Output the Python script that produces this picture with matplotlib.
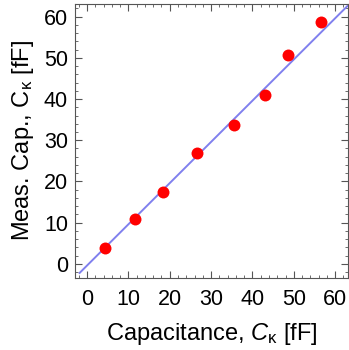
import numpy as np
import matplotlib
matplotlib.use('Agg')
import matplotlib.pyplot as plt

# measured data (design capacitance vs. measured capacitance)
cap_design = [4.3, 11.6, 18.3, 26.6, 35.6, 43.1, 48.7, 56.5]
cap_meas = [3.8, 10.9, 17.5, 26.8, 33.7, 40.9, 50.8, 58.8]

# reference line
line_x = [-1.8, 63.1]
line_y = [-2.2, 62.7]

plt.rcParams['font.family'] = ['Liberation Sans', 'DejaVu Sans']
plt.rcParams['mathtext.fontset'] = 'custom'
plt.rcParams['mathtext.rm'] = 'Liberation Sans'
plt.rcParams['mathtext.it'] = 'Liberation Sans:italic'

fig = plt.figure(figsize=(3.49, 3.5), dpi=100)
ax = fig.add_axes([0.215, 0.206, 0.782, 0.783])

ax.plot(line_x, line_y, color='#8080ee', lw=1.4, zorder=2)
ax.plot(cap_design, cap_meas, 'o', color='#ff0000', ms=8.6, mec='none', zorder=3)

ax.set_xlim(-2.9, 63.1)
ax.set_ylim(-3.4, 63.1)
ax.set_xticks(np.arange(0, 61, 10))
ax.set_yticks(np.arange(0, 61, 10))
ax.set_xticks(np.arange(-2, 63, 2), minor=True)
ax.set_yticks(np.arange(-2, 63, 2), minor=True)

ax.tick_params(which='both', direction='in', top=True, right=True,
               color='#555555', labelsize=15.5)
ax.tick_params(which='major', length=5, width=0.8)
ax.tick_params(which='minor', length=2.5, width=0.6)
ax.tick_params(axis='x', which='major', pad=8)
ax.tick_params(axis='y', which='major', pad=5)
for s in ax.spines.values():
    s.set_color('#555555')
    s.set_linewidth(0.8)

ax.set_xlabel(r'Capacitance, $C_{\mathrm{\kappa}}$ [fF]', fontsize=17, labelpad=8)
ax.set_ylabel(r'Meas. Cap., $\mathrm{C}_{\mathrm{\kappa}}$ [fF]', fontsize=17, labelpad=6)

fig.savefig('out.png', dpi=100)
